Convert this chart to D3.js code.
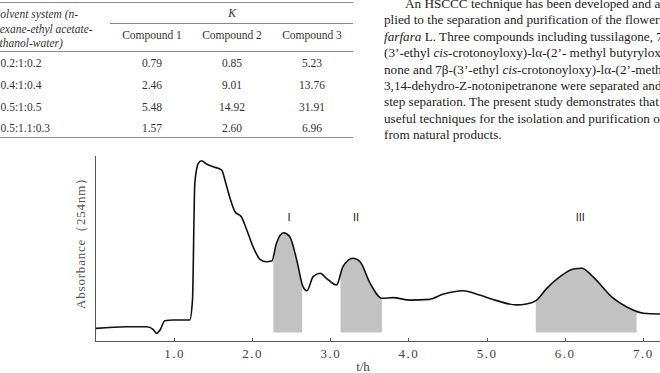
<!DOCTYPE html>
<html lang="en">
  <head>
    <meta charset="utf-8">
    <title>HSCCC chromatogram</title>
    <script src="https://d3js.org/d3.v7.min.js"></script>
    <style>
      body { margin: 0; background: #fff; }
      svg { display: block; }
      .tbl text { font-family: "Liberation Serif", "DejaVu Serif", serif; font-size: 11.5px; fill: #333; }
      .para text { font-family: "Liberation Serif", "DejaVu Serif", serif; font-size: 13.2px; fill: #222; }
      .axis path, .axis line { stroke: #555; shape-rendering: crispEdges; }
      .axis text { font-family: "Liberation Serif", "DejaVu Serif", serif; font-size: 13px; fill: #444; letter-spacing: 1.5px; }
    </style>
  </head>
  <body>
    <script>
    // table data
    let solventRows = ["0.2:1:0.2", "0.4:1:0.4", "0.5:1:0.5", "0.5:1.1:0.3"];
    let compounds = ["Compound 1", "Compound 2", "Compound 3"];
    let kValues = [
      [0.79, 0.85, 5.23],
      [2.46, 9.01, 13.76],
      [5.48, 14.92, 31.91],
      [1.57, 2.60, 6.96]
    ];

    // chromatogram data (t in hours, absorbance in arbitrary units)
    let timeH = [0.00,0.39,0.65,0.73,0.775,0.82,0.88,0.99,1.20,1.235,
                 1.265,1.31,1.35,1.415,1.50,1.61,1.65,1.71,1.78,1.86,
                 1.93,2.01,2.10,2.18,2.25,2.31,2.40,2.48,2.57,2.65,
                 2.70,2.78,2.87,2.95,3.08,3.16,3.29,3.38,3.51,3.66,
                 3.80,4.02,4.27,4.44,4.70,4.91,5.13,5.38,5.51,5.64,
                 5.77,5.94,6.11,6.22,6.36,6.62,6.79,7.01,7.22];
    let absorbance = [6.8,7.7,7.7,6.3,4.1,5.9,10.9,11.3,11.3,22.0,
                      84.8,95.5,96.9,95.2,93.7,91.9,86.6,77.6,69.5,66.8,
                      59.7,50.7,43.9,42.6,43.0,52.5,58.2,56.1,43.5,29.2,
                      27.0,34.6,36.4,33.7,30.1,39.9,44.5,42.6,31.0,23.0,
                      23.3,22.0,22.4,25.1,27.0,24.7,21.7,19.4,19.9,22.0,
                      28.3,34.6,38.7,39.1,34.6,23.0,18.4,14.9,14.5];
    let peakNames = ["I", "II", "III"];
    let peakStart = [2.27, 3.13, 5.63];
    let peakEnd = [2.64, 3.66, 6.92];
    let peakLabelT = [2.47, 3.33, 6.20];
    let fillBase = 4.6;
    let xTicks = [1, 2, 3, 4, 5, 6, 7];

    let paraLines = [
      "An HSCCC technique has been developed and ap-",
      "plied to the separation and purification of the flower buds",
      "<i>farfara</i> L. Three compounds including tussilagone, 7β-",
      "(3’-ethyl <i>cis</i>-crotonoyloxy)-lα-(2’- methyl butyryloxy)-",
      "none and 7β-(3’-ethyl <i>cis</i>-crotonoyloxy)-lα-(2’-methyl",
      "3,14-dehydro-Z-notonipetranone were separated and",
      "step separation. The present study demonstrates that HSCCC",
      "useful techniques for the isolation and purification of natural",
      "from natural products."
    ];

    let w = 660, h = 373;
    let svg = d3.select("body").append("svg").attr("width", w).attr("height", h);

    // ---------- table ----------
    let tbl = svg.append("g").attr("class", "tbl");
    let colX = [152, 232, 312];
    let rowY = [67, 89, 111, 132];
    let rule = (x1, x2, y) => tbl.append("line").attr("x1", x1).attr("x2", x2)
      .attr("y1", y).attr("y2", y).attr("stroke", "#888").attr("stroke-width", 1);
    rule(0, 353, 2.5);
    rule(110, 353, 23.5);
    rule(0, 353, 51.5);
    rule(0, 353, 137.5);

    let headLines = ["Solvent system (<tspan font-style='italic'>n</tspan>-", "hexane-ethyl acetate-", "ethanol-water)"];
    let headX = [-5.5, -6, -5.5];
    headLines.forEach((s, i) => {
      tbl.append("text").attr("x", headX[i]).attr("y", 18 + i * 14.5)
        .attr("font-style", "italic").html(s);
    });
    tbl.append("text").attr("x", 232).attr("y", 17).attr("text-anchor", "middle")
      .attr("font-style", "italic").text("K");
    tbl.selectAll("text.comp").data(compounds).enter().append("text")
      .attr("class", "comp").attr("x", (d, i) => colX[i]).attr("y", 39)
      .attr("text-anchor", "middle").text(d => d);
    tbl.selectAll("text.row").data(solventRows).enter().append("text")
      .attr("class", "row").attr("x", 0.5).attr("y", (d, i) => rowY[i]).text(d => d);
    kValues.forEach((row, r) => {
      tbl.selectAll("text.k" + r).data(row).enter().append("text")
        .attr("x", (d, i) => colX[i]).attr("y", rowY[r])
        .attr("text-anchor", "middle").text(d => d.toFixed(2));
    });

    // ---------- paragraph ----------
    let para = svg.append("g").attr("class", "para");
    paraLines.forEach((s, i) => {
      para.append("text").attr("x", i === 0 ? 405 : 384).attr("y", 8 + i * 16.4)
        .html(s.replace(/<i>/g, "<tspan font-style='italic'>").replace(/<\/i>/g, "</tspan>"));
    });

    // ---------- chromatogram ----------
    let data = timeH.map((t, i) => ({ t: t, v: absorbance[i] }));
    let xScale = d3.scaleLinear().domain([0, 7.22]).range([96, 660]);
    let yScale = d3.scaleLinear().domain([0, 100]).range([341, 155]);

    // shaded fractions: full area clipped to each collection window
    let defs = svg.append("defs");
    let clip = defs.append("clipPath").attr("id", "peaks");
    clip.selectAll("rect").data(peakStart).enter().append("rect")
      .attr("x", d => xScale(d))
      .attr("width", (d, i) => xScale(peakEnd[i]) - xScale(d))
      .attr("y", 0).attr("height", h);

    let area = d3.area()
      .x(d => xScale(d.t))
      .y0(yScale(fillBase))
      .y1(d => yScale(d.v))
      .curve(d3.curveMonotoneX);
    svg.append("path").datum(data)
      .attr("d", area).attr("fill", "#c2c2c2")
      .attr("clip-path", "url(#peaks)");

    let line = d3.line()
      .x(d => xScale(d.t))
      .y(d => yScale(d.v))
      .curve(d3.curveMonotoneX);
    svg.append("path").datum(data)
      .attr("d", line).attr("fill", "none")
      .attr("stroke", "#111").attr("stroke-width", 1.6)
      .attr("stroke-linejoin", "round");

    // axes
    let xAxis = d3.axisBottom(xScale).tickValues(xTicks)
      .tickFormat(d3.format(".1f")).tickSizeInner(-3).tickSizeOuter(0).tickPadding(8);
    svg.append("g").attr("class", "axis")
      .attr("transform", "translate(0," + 341 + ")")
      .call(xAxis);
    svg.select(".axis .domain").attr("d", "M95,0.5H660");

    let yAxis = d3.axisLeft(yScale).ticks(0).tickSizeOuter(0);
    svg.append("g").attr("class", "axis")
      .attr("transform", "translate(95,0)")
      .call(yAxis);

    svg.append("text").attr("x", 363).attr("y", 371)
      .attr("text-anchor", "middle")
      .attr("font-family", "Liberation Serif, serif").attr("font-size", "13px")
      .attr("fill", "#444").text("t/h");

    svg.append("text")
      .attr("transform", "translate(85,240) rotate(-90)")
      .attr("text-anchor", "middle")
      .attr("font-family", "Liberation Serif, serif").attr("font-size", "13px")
      .attr("fill", "#555").attr("letter-spacing", "0.8px")
      .text("Absorbance（254nm）");

    // fraction labels
    svg.selectAll("text.peak").data(peakNames).enter().append("text")
      .attr("class", "peak")
      .attr("x", (d, i) => xScale(peakLabelT[i]))
      .attr("y", 221)
      .attr("text-anchor", "middle")
      .attr("font-family", "Liberation Sans, Arial, sans-serif")
      .attr("font-size", "11px")
      .attr("fill", "#222")
      .text(d => d);
    </script>
  </body>
</html>
